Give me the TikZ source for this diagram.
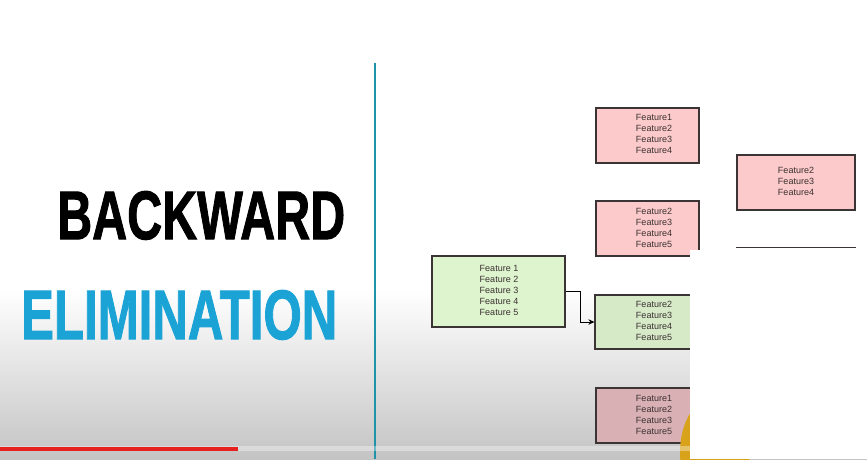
\documentclass[tikz,border=0pt]{standalone}
\usepackage{fontspec}
\setmainfont{Liberation Sans}
\newfontfamily\titlefont{Liberation Sans}[BoldFeatures={FakeBold=1.6}]
\usetikzlibrary{arrows.meta}
\definecolor{tealline}{HTML}{1F93A8}
\definecolor{elimblue}{HTML}{1BA3D6}
\definecolor{pinkfill}{HTML}{FCCACA}
\definecolor{pinkdark}{HTML}{D9B1B4}
\definecolor{greenfill}{HTML}{DDF4CE}
\definecolor{greendark}{HTML}{D6EAC8}
\definecolor{boxline}{HTML}{3A3434}
\definecolor{ftextc}{HTML}{3A3030}
\definecolor{bargrey}{HTML}{C4C4C4}
\definecolor{barred}{HTML}{E5201E}
\definecolor{blob}{HTML}{D9A21B}
\tikzset{
  fbox/.style={draw=boxline, line width=1.2pt, rectangle, inner sep=0pt},
  ftext/.style={text=ftextc, align=center, inner sep=0pt, font=\fontsize{9}{11}\selectfont},
  elbow/.style={draw=black, line width=1pt, -{Stealth[length=6pt,width=5.5pt]}},
}
\begin{document}
\begin{tikzpicture}[x=1pt,y=-1pt]
\useasboundingbox (0,0) rectangle (867,459);
% background
\fill[white] (0,0) rectangle (867,459);
\shade[top color=white, bottom color=bargrey] (0,290) rectangle (867,459);
% title
\node[anchor=south west, inner sep=0pt] (t1) at (57,240) {\resizebox{288pt}{48pt}{\titlefont\bfseries BACKWARD}};
\node[anchor=south west, inner sep=0pt, text=elimblue] (t2) at (21,340) {\resizebox{316pt}{49pt}{\titlefont\bfseries ELIMINATION}};
% divider
\draw[tealline, line width=2pt] (374.5,63) -- (374.5,459);
% boxes
\node[fbox, fill=greenfill, minimum width=133pt, minimum height=71pt] (g1) at (498.5,291.5) {};
\node[ftext] (g1t) at (499,290) {Feature 1\\Feature 2\\Feature 3\\Feature 4\\Feature 5};
\node[fbox, fill=greendark, minimum width=105pt, minimum height=54pt] (g2) at (647.5,322) {};
\node[ftext] (g2t) at (654,321) {Feature2\\Feature3\\Feature4\\Feature5};
\node[fbox, fill=pinkfill, minimum width=103pt, minimum height=55pt] (p1) at (647.5,135.5) {};
\node[ftext] (p1t) at (654,134) {Feature1\\Feature2\\Feature3\\Feature4};
\node[fbox, fill=pinkfill, minimum width=103pt, minimum height=55pt] (p2) at (647.5,228.5) {};
\node[ftext] (p2t) at (654,227.5) {Feature2\\Feature3\\Feature4\\Feature5};
\node[fbox, fill=pinkdark, minimum width=104pt, minimum height=55pt] (p4) at (648,415.5) {};
\node[ftext] (p4t) at (654,414.5) {Feature1\\Feature2\\Feature3\\Feature5};
\node[fbox, fill=pinkfill, minimum width=118pt, minimum height=55pt] (p3) at (796,182.5) {};
\node[ftext] (p3t) at (796,181) {Feature2\\Feature3\\Feature4};
\node[fbox, fill=white, minimum width=118pt, minimum height=55pt, anchor=north] (p5) at (796,247) {};
% connector
\draw[elbow] (g1.east) -- ++(15,0) |- (g2.west);
% progress bar and overlay
\fill[blob] (715,452) ellipse [x radius=35pt, y radius=55pt];
\fill[white, opacity=0.35] (0,446) rectangle (690,451);
\fill[barred] (0,446.5) rectangle (238,450.5);
\fill[white] (690,249.5) rectangle (867,459);
\fill[white] (734,247.6) rectangle (858,250);
\end{tikzpicture}
\end{document}
